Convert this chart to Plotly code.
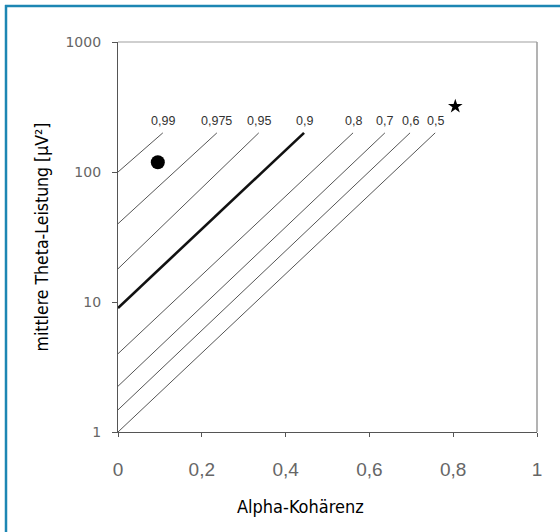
import math
import plotly.graph_objects as go

# Isocoherence lines: label, start power at alpha coherence 0, end point
coh_labels = ["0,99", "0,975", "0,95", "0,9", "0,8", "0,7", "0,6", "0,5"]
start_power = [100, 40, 18, 9, 4, 2.25, 1.48, 1.0]
end_coherence = [0.107, 0.236, 0.336, 0.444, 0.561, 0.637, 0.697, 0.757]
end_power = [200, 200, 200, 200, 200, 200, 200, 200]

dot_point = (0.095, 119)
star_point = (0.805, 320)

x_ticks = [0, 0.2, 0.4, 0.6, 0.8, 1]
x_ticktext = ["0", "0,2", "0,4", "0,6", "0,8", "1"]
y_ticks = [1, 10, 100, 1000]
y_ticktext = ["1", "10", "100", "1000"]

x_title = "Alpha-Kohärenz"
y_title = "mittlere Theta-Leistung [µV²]"

fig = go.Figure()
for lab, y0, x1, y1 in zip(coh_labels, start_power, end_coherence, end_power):
    thick = lab == "0,9"
    fig.add_trace(go.Scatter(
        x=[0, x1], y=[y0, y1], mode="lines",
        line=dict(color="#111" if thick else "#555", width=2.6 if thick else 1),
        showlegend=False, hoverinfo="skip"))
    fig.add_annotation(x=x1, y=math.log10(y1), text=lab, showarrow=False,
                       xanchor="center", yanchor="bottom", yshift=3,
                       font=dict(family="Arial, Liberation Sans", size=12.5, color="#333"))

fig.add_trace(go.Scatter(x=[dot_point[0]], y=[dot_point[1]], mode="markers",
                         marker=dict(symbol="circle", size=14, color="black"),
                         showlegend=False))
fig.add_trace(go.Scatter(x=[star_point[0]], y=[star_point[1]], mode="markers",
                         marker=dict(symbol="star", size=11, color="black"),
                         showlegend=False))

cond = "DejaVu Sans Condensed, Liberation Sans Narrow, sans-serif"

fig.update_xaxes(range=[0, 1], tickvals=x_ticks, ticktext=x_ticktext,
                 showgrid=False, zeroline=False, showline=True, linecolor="#555", linewidth=1.2,
                 ticks="outside", ticklen=4, tickcolor="#555", ticklabelstandoff=16,
                 tickfont=dict(family="Arial, Liberation Sans", size=19, color="#666"))
fig.update_yaxes(type="log", range=[0, 3], tickvals=y_ticks, ticktext=y_ticktext,
                 showgrid=False, zeroline=False, showline=True, linecolor="#555", linewidth=1.2,
                 ticks="outside", ticklen=5, tickcolor="#555", ticklabelstandoff=8,
                 tickfont=dict(family="DejaVu Sans, sans-serif", size=14, color="#666"),
                 title=dict(text=y_title, font=dict(family=cond, size=17.5, color="black"),
                            standoff=12))

W, H = 560, 532
ml, mr, mt, mb = 118, 23, 42, 100
pw, ph = W - ml - mr, H - mt - mb

def px(x):
    return (x - ml) / pw

def py(y):
    return 1 - (y - mt) / ph

fig.add_annotation(xref="paper", yref="paper", x=px(300), y=py(506), text=x_title,
                   showarrow=False, xanchor="center", yanchor="middle",
                   font=dict(family=cond, size=18, color="black"))

shapes = [
    # light top and right frame of plot area
    dict(type="line", xref="paper", yref="paper", x0=0, x1=1, y0=1, y1=1,
         line=dict(color="#cfcfcf", width=2)),
    dict(type="line", xref="paper", yref="paper", x0=1, x1=1, y0=0, y1=1,
         line=dict(color="#9a9a9a", width=1.5)),
    # outer teal frame (top and left)
    dict(type="line", xref="paper", yref="paper", x0=px(5), x1=px(560), y0=py(6), y1=py(6),
         line=dict(color="#1d86b3", width=2.5)),
    dict(type="line", xref="paper", yref="paper", x0=px(6), x1=px(6), y0=py(5), y1=py(532),
         line=dict(color="#1d86b3", width=2.5)),
]

fig.update_layout(width=W, height=H, margin=dict(l=ml, r=mr, t=mt, b=mb),
                  paper_bgcolor="white", plot_bgcolor="white", shapes=shapes,
                  showlegend=False)

fig.write_html("out.html", config={"displayModeBar": False},
               post_script="document.body.style.margin='0px';")
